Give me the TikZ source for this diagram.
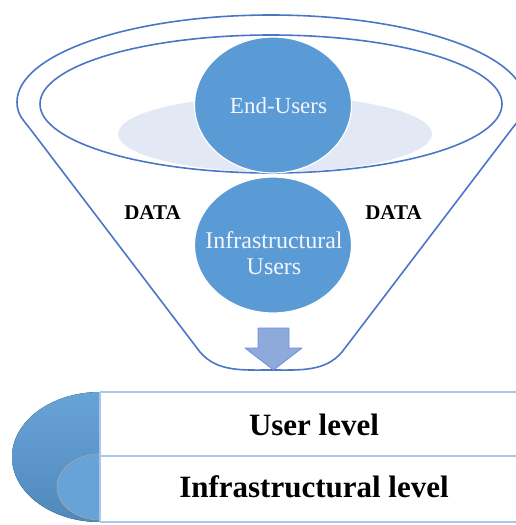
\documentclass[tikz,border=0pt]{standalone}
\usepackage{fontspec}
\setmainfont{Liberation Serif}
\usepackage{tikz}
\usetikzlibrary{shapes.geometric}

\definecolor{usrblue}{HTML}{5B9BD5}
\definecolor{rimblue}{HTML}{4A76C8}
\definecolor{haze}{HTML}{E3E9F4}
\definecolor{bandline}{HTML}{A9C8E8}
\definecolor{arrfill}{HTML}{8EAADB}

\begin{document}
\begin{tikzpicture}[x=1pt,y=-1pt]
  \tikzstyle{rim}=[draw=rimblue,line width=1.6pt,line join=round]
  \tikzstyle{usr}=[ellipse,fill=usrblue,draw=white,line width=1.2pt,
        minimum width=157pt,minimum height=136pt,inner sep=0pt]
  \tikzstyle{usrtxt}=[text=white!96!blue,align=center,anchor=base,
        font=\fontsize{24}{26}\selectfont]
  \tikzstyle{lvl}=[anchor=base,font=\bfseries\fontsize{31}{34}\selectfont]
  \tikzstyle{tag}=[anchor=base,font=\bfseries\fontsize{21}{24}\selectfont]
  \useasboundingbox (0,0) rectangle (516,525);

  % funnel
  \draw [rim] (17,102) arc[start angle=180,end angle=360,x radius=254,y radius=87]
     .. controls (525,115) and (518.5,120) .. (511,130)
     -- (342,352) .. controls (325,372) and (300,370) .. (271,370)
     .. controls (242,370) and (217,372) .. (200,352)
     -- (31,130) .. controls (23.5,120) and (17,115) .. (17,102);
  \draw [rim] (271,104) ellipse [x radius=231,y radius=69];
  \fill [haze] (275,134) ellipse [x radius=157,y radius=38];

  \node [usr] (end) at (273,105) {};
  \node [usrtxt,font=\fontsize{23}{26}\selectfont] (endtxt) at (278.5,113) {End-Users};
  \node [usr] (infra) at (273,245) {};
  \node [usrtxt] (infratxt) at (274,248) {Infrastructural};
  \node [usrtxt] (userstxt) at (274,274) {Users};

  \node [tag] (dleft) at (152.5,219) {DATA};
  \node [tag] (dright) at (393.5,219) {DATA};

  % down arrow
  \draw [fill=arrfill,draw=rimblue!80,line width=0.8pt,line join=round]
     (258,328) -- (289,328) -- (289,348) -- (302,348) -- (273.5,370)
     -- (245,348) -- (258,348) -- cycle;

  % levels
  \fill [top color=usrblue!92!white,bottom color=usrblue!88!black]
     (100,392) arc[start angle=270,end angle=90,x radius=88,y radius=65] -- cycle;
  \fill [usrblue!92!white,draw=black!35,line width=0.6pt]
     (100,454) arc[start angle=270,end angle=90,x radius=43,y radius=33];
  \draw [bandline,line width=1.2pt] (100,392) -- (516,392);
  \draw [bandline,line width=1.2pt] (100,456) -- (516,456);
  \draw [bandline,line width=1.2pt] (100,522) -- (516,522);
  \draw [bandline,line width=1.2pt] (100,392) -- (100,522);

  \node [lvl] (ulevel) at (314,435) {User level};
  \node [lvl] (ilevel) at (314,497) {Infrastructural level};
\end{tikzpicture}
\end{document}
